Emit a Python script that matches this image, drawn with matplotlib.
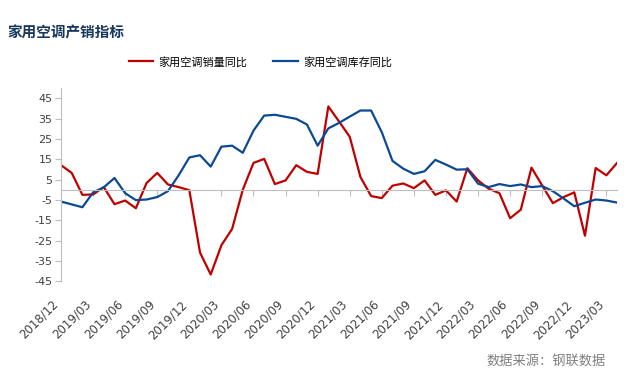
import numpy as np
import pandas as pd
import matplotlib
matplotlib.use("Agg")
import matplotlib.pyplot as plt

plt.rcParams['font.family'] = ['Noto Sans CJK SC', 'DejaVu Sans']

# monthly categories 2018/12 .. 2023/04
months = pd.period_range('2018-12', '2023-04', freq='M').strftime('%Y/%m').tolist()

# 家用空调销量同比 (%)
sales_yoy = [12.1, 8.3, -2.5, -2.3, 1.3, -7.1, -5.3, -9.1, 3.3, 8.3,
             2.6, 1.3, -0.2, -30.9, -41.7, -27.3, -19.3, 0.0, 13.2, 15.2,
             2.8, 4.6, 12.1, 8.8, 7.8, 41.0, 33.6, 26.1, 6.3, -3.1,
             -4.1, 2.0, 3.1, 0.8, 4.6, -2.5, -0.3, -5.8, 10.6, 4.6,
             0.5, -1.7, -14.0, -9.8, 10.9, 2.1, -6.6, -3.6, -1.3, -22.6,
             10.7, 7.1, 13.2]

# 家用空调库存同比 (%)
stock_yoy = [-5.8, -7.2, -8.6, -1.3, 1.2, 5.8, -1.7, -5.1, -4.8, -3.6,
             -0.7, 7.1, 15.9, 17.0, 11.4, 21.2, 21.7, 18.2, 29.1, 36.5,
             36.9, 35.9, 34.9, 32.1, 21.7, 30.2, 32.9, 36.0, 39.0, 39.0,
             28.3, 14.2, 10.4, 7.8, 9.1, 14.7, 12.4, 9.9, 10.1, 3.0,
             1.3, 2.8, 1.8, 2.6, 1.3, 1.8, -0.7, -4.3, -8.1, -6.4,
             -4.8, -5.3, -6.3]

y_ticks = np.arange(-45, 46, 10)
axis_grey = '#BFBFBF'
text_grey = '#404040'

fig = plt.figure(figsize=(6.29, 3.80), dpi=100)
ax = fig.add_axes([0.097, 0.260, 0.884, 0.508])

x = np.arange(len(months))
ax.plot(x, sales_yoy, color='#C00000', lw=1.6, label='家用空调销量同比')
ax.plot(x, stock_yoy, color='#0B4A92', lw=1.6, label='家用空调库存同比')

ax.set_xlim(0, len(months) - 1)
ax.set_ylim(-45, 50)
ax.set_yticks(y_ticks)
ax.set_yticklabels([str(v) for v in y_ticks], family='DejaVu Sans',
                   fontsize=8, color=text_grey)

for s in ['top', 'right']:
    ax.spines[s].set_visible(False)
ax.spines['left'].set_color(axis_grey)
ax.spines['bottom'].set_color(axis_grey)
ax.spines['bottom'].set_position(('data', 0))
ax.tick_params(axis='y', length=4, color=axis_grey, width=0.8, pad=2)

tick_idx = x[::3]
ax.set_xticks(tick_idx)
ax.tick_params(axis='x', length=4, color=axis_grey, width=0.8,
               direction='out', labelbottom=False)

# date labels at the bottom of the plot area
sec = ax.secondary_xaxis(0)
sec.set_xticks(tick_idx)
sec.set_xticklabels([months[i] for i in tick_idx], rotation=45,
                    ha='right', va='top', rotation_mode='default',
                    family='DejaVu Sans', fontsize=8.5, color=text_grey)
sec.tick_params(length=0, pad=12)
sec.spines['bottom'].set_visible(False)

fig.text(0.011, 0.915, '家用空调产销指标', fontsize=10.5, fontweight='bold',
         color='#17375E', va='center', ha='left')

fig.legend(loc='center', bbox_to_anchor=(0.414, 0.837), ncol=2, frameon=False,
           fontsize=8, handlelength=2.2, handletextpad=0.5, columnspacing=2.3)

fig.text(0.963, 0.047, '数据来源：钢联数据', fontsize=9.5, color='#808080',
         ha='right', va='center')

fig.savefig('out.png', dpi=100)
